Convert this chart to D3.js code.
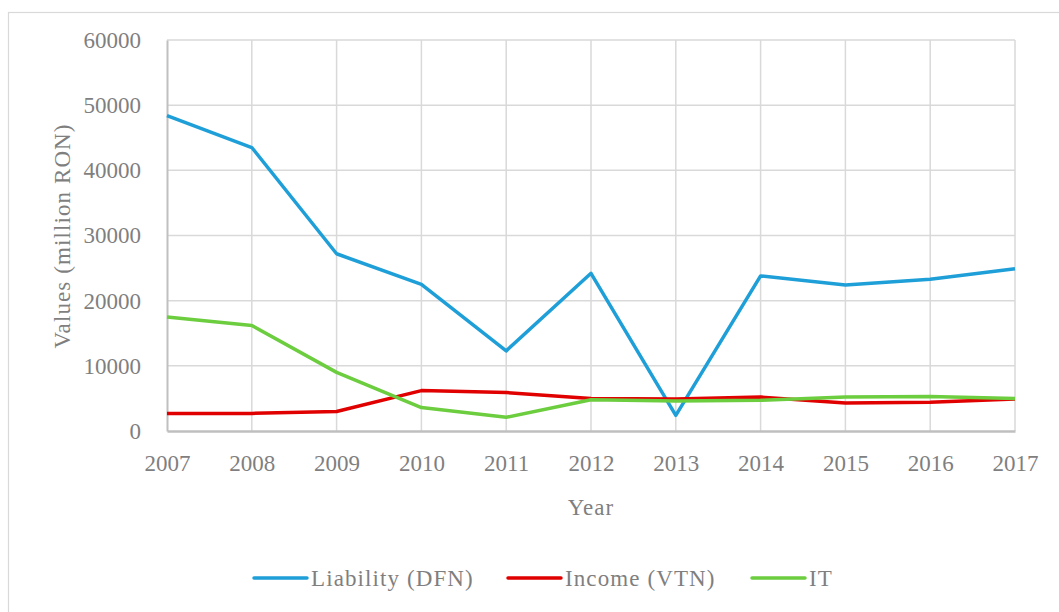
<!DOCTYPE html>
<html><head><meta charset="utf-8">
<script src="https://cdn.jsdelivr.net/npm/d3@7"></script>
<style>body{margin:0;background:#fff;}svg{display:block;font-family:"Liberation Serif",serif;}</style>
</head><body><svg width="1059" height="612"></svg>
<script>
const years = [2007,2008,2009,2010,2011,2012,2013,2014,2015,2016,2017];
const liability = [48400,43500,27200,22500,12300,24200,2400,23800,22400,23300,24900];
const income = [2700,2700,3000,6200,5900,5000,4900,5200,4300,4400,4900];
const it = [17500,16200,9000,3600,2100,4800,4600,4700,5200,5300,5000];
const yTicks = [0,10000,20000,30000,40000,50000,60000];
const seriesNames = ["Liability (DFN)","Income (VTN)","IT"];
const seriesColors = ["#1f9fd8","#e00000","#6ccd3f"];
const txt = "#7f7f7f";

const svg = d3.select("svg");
svg.append("rect").attr("x",8.5).attr("y",12.5).attr("width",1070).attr("height",620)
  .attr("fill","#fff").attr("stroke","#d9d9d9").attr("stroke-width",1.2);

const L=167,R=1015,T=40,B=431;
const x = d3.scalePoint().domain(years).range([L,R]);
const y = d3.scaleLinear().domain([0,60000]).range([B,T]);

// grid
svg.append("g").selectAll("line").data(yTicks.slice(1)).join("line")
  .attr("x1",L).attr("x2",R).attr("y1",d=>y(d)).attr("y2",d=>y(d))
  .attr("stroke","#d9d9d9").attr("stroke-width",1.5);
svg.append("g").selectAll("line").data(years.slice(1)).join("line")
  .attr("x1",d=>x(d)).attr("x2",d=>x(d)).attr("y1",T).attr("y2",B)
  .attr("stroke","#d9d9d9").attr("stroke-width",1.5);

// axes
const yAxis = svg.append("g").attr("transform",`translate(${L},0)`)
  .call(d3.axisLeft(y).tickValues(yTicks).tickFormat(d3.format("d")).tickSize(0).tickPadding(26));
yAxis.select(".domain").attr("stroke","#c0c0c0").attr("stroke-width",2);
yAxis.selectAll("text").attr("font-size",23).attr("fill",txt).attr("font-family","Liberation Serif");

const xAxis = svg.append("g").attr("transform",`translate(0,${B})`)
  .call(d3.axisBottom(x).tickFormat(d3.format("d")).tickSize(0).tickPadding(24));
xAxis.select(".domain").attr("stroke","#bfbfbf").attr("stroke-width",2.5);
xAxis.selectAll("text").attr("font-size",23).attr("fill",txt).attr("font-family","Liberation Serif");

// titles
svg.append("text").attr("x",591).attr("y",515).attr("text-anchor","middle")
  .attr("font-size",23).attr("letter-spacing",1).attr("fill",txt).text("Year");
svg.append("text").attr("transform","translate(70,236) rotate(-90)").attr("text-anchor","middle")
  .attr("font-size",23).attr("letter-spacing",1.1).attr("fill",txt).text("Values (million RON)");

// lines
const data = [liability,income,it];
const line = d3.line().x((d,i)=>x(years[i])).y(d=>y(d));
data.forEach((s,k)=>{
  svg.append("path").datum(s).attr("d",line).attr("fill","none")
    .attr("stroke",seriesColors[k]).attr("stroke-width",3.5).attr("stroke-linejoin","round");
});

// legend
const legX = [254,508,752];
const lg = svg.append("g");
seriesNames.forEach((n,k)=>{
  const g = lg.append("g").attr("transform",`translate(${legX[k]},578)`);
  g.append("line").attr("x1",0).attr("x2",53).attr("y1",0).attr("y2",0)
    .attr("stroke",seriesColors[k]).attr("stroke-width",3.5).attr("stroke-linecap","round");
  g.append("text").attr("x",57).attr("y",8).attr("font-size",23).attr("letter-spacing",1.1).attr("fill",txt).text(n);
});
</script></body></html>
